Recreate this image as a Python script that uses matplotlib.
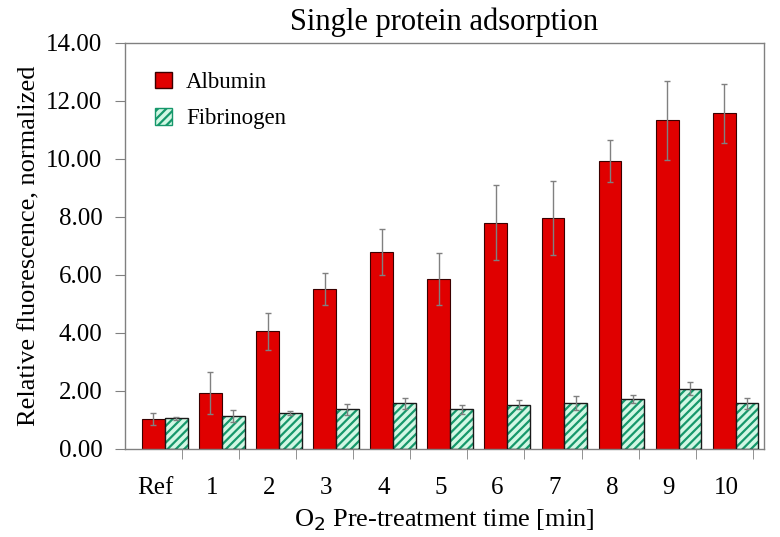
import numpy as np
import matplotlib
matplotlib.use("Agg")
import matplotlib.pyplot as plt
from matplotlib.patches import Patch

plt.rcParams['font.family'] = ['Liberation Serif', 'DejaVu Serif']

categories = ["Ref", "1", "2", "3", "4", "5", "6", "7", "8", "9", "10"]
albumin = [1.03, 1.94, 4.05, 5.50, 6.80, 5.87, 7.80, 7.97, 9.93, 11.33, 11.57]
albumin_err = [0.22, 0.72, 0.65, 0.55, 0.80, 0.90, 1.30, 1.28, 0.72, 1.37, 1.03]
fibrinogen = [1.05, 1.14, 1.24, 1.36, 1.57, 1.36, 1.53, 1.58, 1.72, 2.08, 1.58]
fib_err = [0.05, 0.20, 0.06, 0.18, 0.18, 0.15, 0.17, 0.24, 0.14, 0.23, 0.19]

red = "#e00000"
mint = "#d2f7e4"
green = "#16986b"
w = 0.4

x = np.arange(len(categories))

fig = plt.figure(figsize=(7.8, 5.37), dpi=100)
ax = fig.add_axes([0.160, 0.164, 0.819, 0.756])

ax.bar(x - w / 2, albumin, w, color=red, edgecolor="#3a0000", linewidth=0.8, zorder=2)
# hatched fill first, then black outline on top
plt.rcParams['hatch.linewidth'] = 1.6
ax.bar(x + w / 2, fibrinogen, w, color=mint, edgecolor=green, hatch="////", linewidth=0, zorder=2)
ax.bar(x + w / 2, fibrinogen, w, fill=False, edgecolor="#1a1a1a", linewidth=1.0, zorder=3)

ax.errorbar(x - w / 2, albumin, yerr=albumin_err, fmt="none", ecolor="#808080",
            elinewidth=1.0, capsize=2.5, capthick=1.0, zorder=4)
ax.errorbar(x + w / 2, fibrinogen, yerr=fib_err, fmt="none", ecolor="#808080",
            elinewidth=1.0, capsize=2.5, capthick=1.0, zorder=4)

ax.set_xlim(-0.70, len(categories) - 1 + 0.49)
ax.set_ylim(0, 14)
ax.set_yticks(np.arange(0, 15, 2))
ax.set_yticklabels([f"{v:.2f}" for v in np.arange(0, 15, 2)], fontsize=18)

# labels sit left of group centre, tick marks sit right of it
ax.set_xticks(x - 0.17)
ax.set_xticklabels(categories, fontsize=18)
ax.tick_params(axis="x", which="major", length=0, pad=20)
ax.set_xticks(x + 0.30, minor=True)
ax.tick_params(axis="x", which="minor", direction="out", length=7, color="#808080")
ax.tick_params(axis="y", direction="out", length=7, color="#808080", pad=9)

for s in ax.spines.values():
    s.set_color("#808080")
    s.set_linewidth(1.0)

ax.set_title("Single protein adsorption", fontsize=22, pad=9)
ax.set_xlabel("O$_2$ Pre-treatment time [min]", fontsize=19, labelpad=6)
ax.set_ylabel("Relative fluorescence, normalized", fontsize=19, labelpad=4)

handles = [Patch(facecolor=red, edgecolor="#3a0000", label="Albumin"),
           Patch(facecolor=mint, edgecolor=green, hatch="////", label="Fibrinogen")]
ax.legend(handles=handles, loc="upper left", frameon=False, fontsize=16.5,
          handlelength=0.75, handleheight=0.75, handletextpad=0.6, labelspacing=0.65,
          bbox_to_anchor=(0.015, 0.98))

fig.savefig("out.png", dpi=100)
